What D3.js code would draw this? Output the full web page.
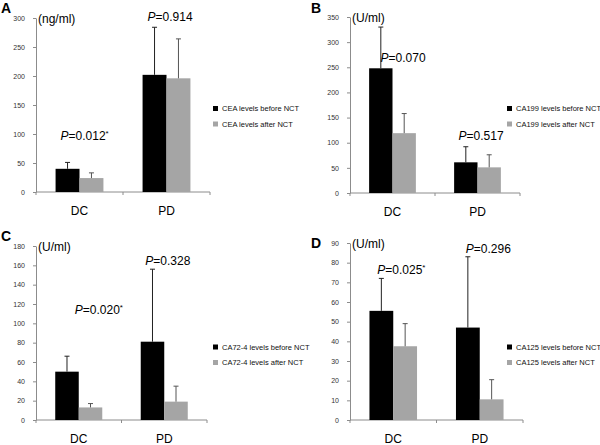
<!DOCTYPE html>
<html>
<head>
<meta charset="utf-8">
<script src="https://cdn.jsdelivr.net/npm/d3@7"></script>
<style>
  body { margin: 0; background: #fff; }
  svg { font-family: "Liberation Sans", Arial, sans-serif; }
</style>
</head>
<body>
<div id="chart"></div>
<script>
var w = 600;
var h = 445;

var groups = ["DC", "PD"];
var phases = ["before", "after"];

// A: CEA
var ceaBefore = [40, 202];
var ceaAfter = [24, 196];
var ceaBeforeErr = [51, 284];
var ceaAfterErr = [33, 264];
var ceaP = ["0.012", "0.914"];
var ceaSig = [true, false];
var ceaPAt = [90, 295];
var ceaTicks = [0, 50, 100, 150, 200, 250, 300];

// B: CA199
var ca199Before = [248, 61];
var ca199After = [119, 51];
var ca199BeforeErr = [330, 92];
var ca199AfterErr = [158, 76];
var ca199P = ["0.070", "0.517"];
var ca199Sig = [false, false];
var ca199PAt = [260, 105];
var ca199Ticks = [0, 50, 100, 150, 200, 250, 300, 350];

// C: CA72-4
var ca724Before = [50, 81];
var ca724After = [13, 19];
var ca724BeforeErr = [66, 156];
var ca724AfterErr = [17, 35];
var ca724P = ["0.020", "0.328"];
var ca724Sig = [true, false];
var ca724PAt = [110, 160];
var ca724Ticks = [0, 20, 40, 60, 80, 100, 120, 140, 160, 180];

// D: CA125
var ca125Before = [55.5, 47];
var ca125After = [37.5, 10.5];
var ca125BeforeErr = [72, 83];
var ca125AfterErr = [49, 20.5];
var ca125P = ["0.025", "0.296"];
var ca125Sig = [true, false];
var ca125PAt = [74, 85];
var ca125Ticks = [0, 10, 20, 30, 40, 50, 60, 70, 80, 90];

var colors = { before: "#000000", after: "#a5a5a5" };

var svg = d3.select("#chart").append("svg")
  .attr("width", w)
  .attr("height", h);

function drawPanel(p) {
  var g = svg.append("g");

  var y = d3.scaleLinear()
    .domain([0, p.ticks[p.ticks.length - 1]])
    .range([p.bottom, p.top]);

  var x = d3.scaleBand()
    .domain(groups)
    .range([p.left, p.right])
    .paddingInner(0.45)
    .paddingOuter(0.225);

  var xSub = d3.scaleBand()
    .domain(phases)
    .range([0, x.bandwidth()]);

  // y axis
  var yAxis = g.append("g")
    .attr("transform", "translate(" + p.left + ",0)")
    .call(d3.axisLeft(y).tickValues(p.ticks).tickSize(3).tickSizeOuter(0).tickPadding(8));
  yAxis.select(".domain").attr("stroke", "#8c8c8c");
  yAxis.selectAll(".tick line").attr("stroke", "#8c8c8c");
  yAxis.selectAll("text")
    .attr("font-size", "7px")
    .attr("fill", "#333")
    .attr("font-family", "Liberation Sans, Arial, sans-serif");

  // x axis line + ticks at band boundaries
  g.append("line")
    .attr("x1", p.left).attr("x2", p.right)
    .attr("y1", p.bottom).attr("y2", p.bottom)
    .attr("stroke", "#8c8c8c");
  var half = (x.step() - x.bandwidth()) / 2;
  var bounds = groups.map(function(c) { return x(c) - half; }).concat([p.right]);
  g.selectAll(".xtick")
    .data(bounds)
    .enter().append("line")
    .attr("x1", d => d).attr("x2", d => d)
    .attr("y1", p.bottom).attr("y2", p.bottom + 3)
    .attr("stroke", "#8c8c8c");

  g.selectAll(".cat")
    .data(groups)
    .enter().append("text")
    .attr("x", d => x(d) + x.bandwidth() / 2)
    .attr("y", p.bottom + 23)
    .attr("text-anchor", "middle")
    .attr("font-size", "12px")
    .attr("fill", "#000")
    .text(d => d);

  // bars + error bars
  var rows = [];
  groups.forEach(function(c, i) {
    rows.push({ g: c, ph: "before", v: p.before[i], e: p.beforeErr[i] });
    rows.push({ g: c, ph: "after", v: p.after[i], e: p.afterErr[i] });
  });

  g.selectAll(".bar")
    .data(rows)
    .enter().append("rect")
    .attr("x", d => x(d.g) + xSub(d.ph))
    .attr("y", d => y(d.v))
    .attr("width", xSub.bandwidth())
    .attr("height", d => p.bottom - y(d.v))
    .attr("fill", d => colors[d.ph]);

  rows.forEach(function(d) {
    var cx = x(d.g) + xSub(d.ph) + xSub.bandwidth() / 2;
    var col = d.ph === "before" ? "#222" : "#555";
    g.append("line")
      .attr("x1", cx).attr("x2", cx)
      .attr("y1", y(d.v)).attr("y2", y(d.e))
      .attr("stroke", col).attr("stroke-width", 1);
    g.append("line")
      .attr("x1", cx - 2.5).attr("x2", cx + 2.5)
      .attr("y1", y(d.e)).attr("y2", y(d.e))
      .attr("stroke", col).attr("stroke-width", 1);
  });

  // P value labels
  groups.forEach(function(c, i) {
    var t = g.append("text")
      .attr("x", x(c) + x.bandwidth() / 2 + p.pDx[i])
      .attr("y", y(p.pAt[i]))
      .attr("font-size", "12px")
      .attr("fill", "#000");
    t.append("tspan").attr("font-style", "italic").text("P");
    t.append("tspan").text("=" + p.pVals[i]);
    if (p.sig[i]) {
      t.append("tspan").attr("font-size", "8px").attr("dy", -4).text("*");
    }
  });

  // unit label
  g.append("text")
    .attr("x", p.left + 2)
    .attr("y", p.top + 5)
    .attr("font-size", "12px")
    .attr("fill", "#000")
    .text(p.unit);

  // panel letter
  g.append("text")
    .attr("x", p.letterX)
    .attr("y", p.letterY)
    .attr("font-size", "14px")
    .attr("font-weight", "bold")
    .attr("fill", "#000")
    .text(p.letter);

  // legend
  var legend = g.selectAll(".legend")
    .data(phases)
    .enter().append("g")
    .attr("transform", (d, i) => "translate(" + p.legX + "," + (p.legY + i * 15.5) + ")");
  legend.append("rect")
    .attr("x", 0).attr("y", -2.5)
    .attr("width", 5).attr("height", 5)
    .attr("fill", d => colors[d]);
  legend.append("text")
    .attr("x", 9)
    .attr("y", 0)
    .attr("dy", "0.35em")
    .attr("font-size", "7.5px")
    .attr("fill", "#111")
    .text(d => p.marker + " levels " + d + " NCT");
}

var panels = [
  { letter: "A", letterX: 1, letterY: 13, unit: "(ng/ml)", marker: "CEA",
    before: ceaBefore, after: ceaAfter, beforeErr: ceaBeforeErr, afterErr: ceaAfterErr,
    pVals: ceaP, sig: ceaSig, pAt: ceaPAt, ticks: ceaTicks, pDx: [-19, -19],
    left: 36, right: 210, top: 18, bottom: 192, legX: 213, legY: 108.5 },
  { letter: "B", letterX: 311, letterY: 13, unit: "(U/ml)", marker: "CA199",
    before: ca199Before, after: ca199After, beforeErr: ca199BeforeErr, afterErr: ca199AfterErr,
    pVals: ca199P, sig: ca199Sig, pAt: ca199PAt, ticks: ca199Ticks, pDx: [-12, -19],
    left: 350, right: 520, top: 17, bottom: 193, legX: 507, legY: 108.5 },
  { letter: "C", letterX: 1, letterY: 241, unit: "(U/ml)", marker: "CA72-4",
    before: ca724Before, after: ca724After, beforeErr: ca724BeforeErr, afterErr: ca724AfterErr,
    pVals: ca724P, sig: ca724Sig, pAt: ca724PAt, ticks: ca724Ticks, pDx: [-4, -19],
    left: 36, right: 207, top: 246, bottom: 420, legX: 213, legY: 347 },
  { letter: "D", letterX: 311, letterY: 248, unit: "(U/ml)", marker: "CA125",
    before: ca125Before, after: ca125After, beforeErr: ca125BeforeErr, afterErr: ca125AfterErr,
    pVals: ca125P, sig: ca125Sig, pAt: ca125PAt, ticks: ca125Ticks, pDx: [-16, -14],
    left: 350, right: 523, top: 243, bottom: 420, legX: 507, legY: 347 }
];

panels.forEach(drawPanel);
</script>
</body>
</html>
